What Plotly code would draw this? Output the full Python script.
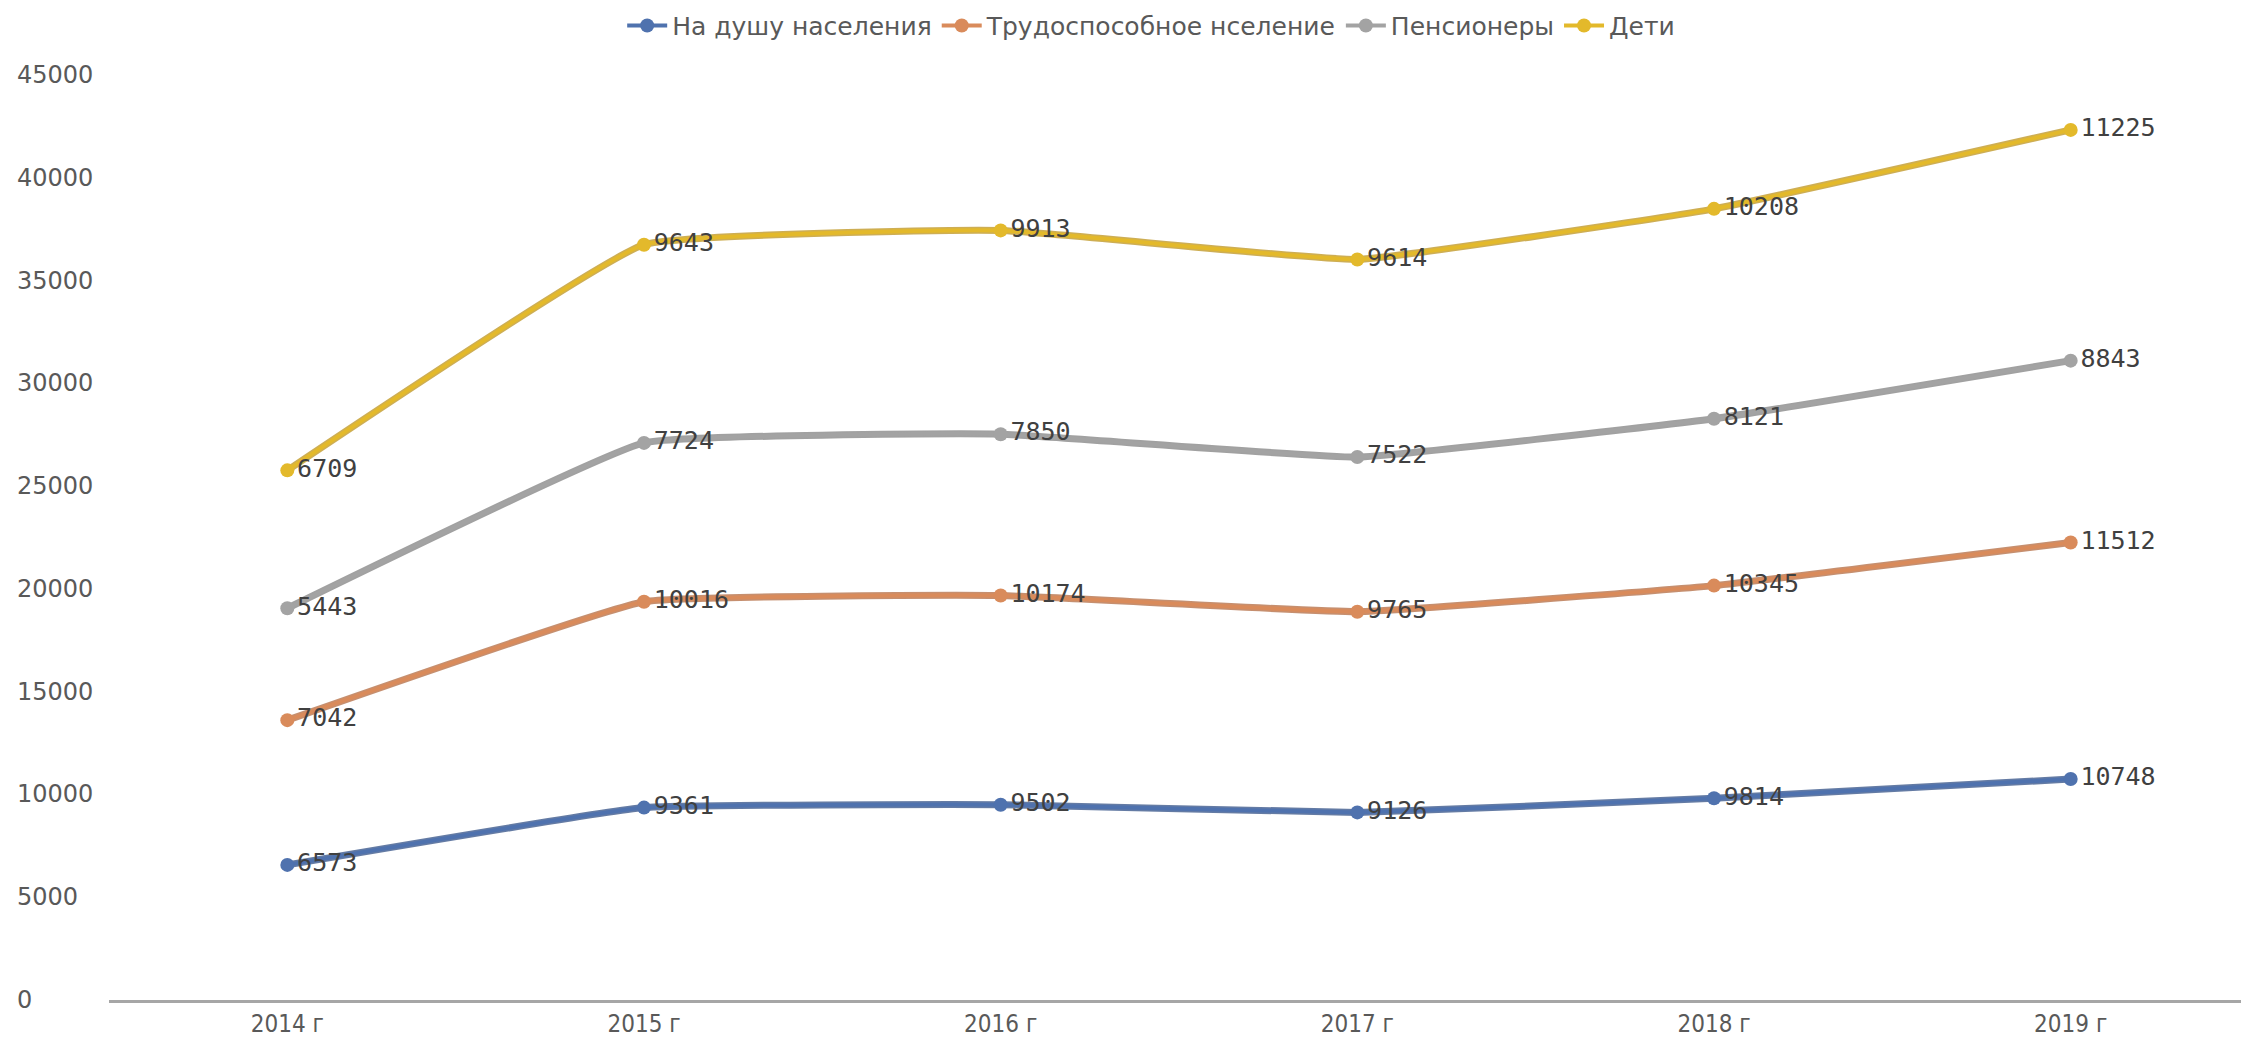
import plotly.graph_objects as go

years = ["2014 г", "2015 г", "2016 г", "2017 г", "2018 г", "2019 г"]
per_capita = [6573, 9361, 9502, 9126, 9814, 10748]
working = [7042, 10016, 10174, 9765, 10345, 11512]
pensioners = [5443, 7724, 7850, 7522, 8121, 8843]
children = [6709, 9643, 9913, 9614, 10208, 11225]
series_names = ["На душу населения", "Трудоспособное нселение", "Пенсионеры", "Дети"]
y_ticks = [0, 5000, 10000, 15000, 20000, 25000, 30000, 35000, 40000, 45000]

colors = ["#4F72AE", "#D98B5B", "#A3A3A3", "#E3B92B"]
edge_colors = ["#3E5B8E", "#B8744C", "#8A8A8A", "#C29B2A"]
series = [per_capita, working, pensioners, children]

fig = go.Figure()
# soft darker edge under each line (separate stack with identical sums)
for name, vals, ecol in zip(series_names, series, edge_colors):
    fig.add_trace(go.Scatter(
        x=years, y=vals, name=name, stackgroup="edge", fill="none",
        mode="lines", showlegend=False, hoverinfo="skip",
        line=dict(color=ecol, width=7, shape="spline", smoothing=0.3),
        opacity=0.8,
    ))
for name, vals, col in zip(series_names, series, colors):
    fig.add_trace(go.Scatter(
        x=years, y=vals, name=name, stackgroup="one", fill="none",
        mode="lines+markers+text",
        line=dict(color=col, width=4, shape="spline", smoothing=0.3),
        marker=dict(color=col, size=14, symbol="circle"),
        text=[str(v) for v in vals], textposition="middle right",
        textfont=dict(family="DejaVu Sans Mono, Liberation Mono, monospace", size=25, color="#404040"),
        cliponaxis=False,
    ))

for t in y_ticks:
    fig.add_annotation(x=-0.0439, y=t, xref="paper", yref="y", text=str(t),
                       showarrow=False, xanchor="left", yanchor="middle",
                       font=dict(family="DejaVu Sans, sans-serif", size=24, color="#595959"))

fig.update_layout(
    width=2249, height=1046,
    margin=dict(l=101, r=8, t=67, b=54, autoexpand=False),
    paper_bgcolor="white", plot_bgcolor="white",
    showlegend=True,
    legend=dict(orientation="h", x=0.487, xanchor="center", yref="container", y=0.983, yanchor="middle",
                font=dict(family="DejaVu Sans, sans-serif", size=25, color="#595959"),
                itemwidth=40, traceorder="normal"),
    xaxis=dict(range=[-0.5, 5.5], showgrid=False, showline=True, linecolor="#A6A6A6", linewidth=3,
               ticks="", tickfont=dict(family="DejaVu Sans Condensed, DejaVu Sans, sans-serif", size=24, color="#595959"),
               zeroline=False, automargin=False),
    yaxis=dict(range=[0, 45000], showgrid=False, showticklabels=False, zeroline=False,
               showline=False, ticks="", automargin=False),
)
fig.write_html("out.html")
